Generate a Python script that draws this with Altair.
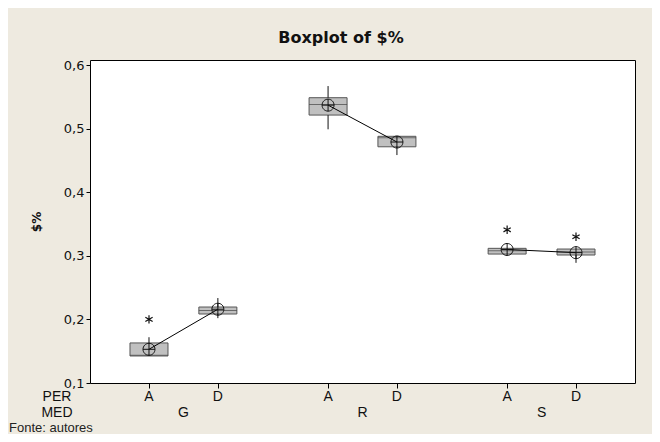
import altair as alt
import pandas as pd

# ---- data ----
per = ["A", "D", "A", "D", "A", "D"]
med = ["G", "G", "R", "R", "S", "S"]
pos = [0.0, 1.0, 2.6, 3.6, 5.2, 6.2]          # category slots on the x axis
q1 = [0.1425, 0.2085, 0.5214, 0.4715, 0.3028, 0.3013]
q3 = [0.1630, 0.2195, 0.5487, 0.4880, 0.3118, 0.3107]
median = [0.1435, 0.2140, 0.5380, 0.4857, 0.3080, 0.3060]
w_low = [0.1425, 0.2020, 0.4990, 0.4585, 0.3028, 0.2890]
w_high = [0.1720, 0.2336, 0.5670, 0.4880, 0.3118, 0.3107]
mean = [0.153, 0.216, 0.537, 0.479, 0.310, 0.305]

out_pos = [0.0, 5.2, 6.2]
out_val = [0.200, 0.341, 0.330]

groups = ["G", "R", "S"]
group_pos = [0.5, 3.1, 5.7]
y_ticks = [0.1, 0.2, 0.3, 0.4, 0.5, 0.6]

W, H = 545, 323
BG = "#eeeae0"
LABEL_FONT = "Liberation Sans Narrow, Liberation Sans, sans-serif"

df = pd.DataFrame(dict(per=per, med=med, pos=pos, q1=q1, q3=q3, median=median,
                       wlo=w_low, whi=w_high, mean=mean))
df_out = pd.DataFrame(dict(pos=out_pos, val=out_val))
df_grp = pd.DataFrame(dict(med=groups, pos=group_pos))

xs = alt.Scale(domain=[-0.784, 6.984], nice=False, zero=False)
ys = alt.Scale(domain=[0.1, 0.608], nice=False, zero=False)

X = alt.X("pos:Q", scale=xs,
          axis=alt.Axis(values=pos, labels=False, title=None, domain=False,
                        grid=False, ticks=True, tickSize=5, tickColor="black"))
Y = alt.Y("q1:Q", scale=ys,
          axis=alt.Axis(values=y_ticks, title="$%", grid=False, domain=False,
                        tickSize=4, tickColor="black",
                        labelExpr="replace(format(datum.value, '.1f'), '.', ',')",
                        labelFont="DejaVu Sans", labelFontSize=13, labelColor="#111",
                        labelPadding=2,
                        titleFont="DejaVu Sans", titleFontSize=12, titleFontWeight="bold",
                        titleColor="#111", titleAngle=-90, titleX=-54, titleY=H / 2,
                        titleAlign="center", titleBaseline="middle"))

base = alt.Chart(df)

boxes = base.mark_bar(size=38, fill="#c0c0c0", stroke="#555555", strokeWidth=1).encode(
    x=X, y=Y, y2="q3:Q")

medians = base.mark_tick(orient="horizontal", size=38, thickness=1, color="#444444").encode(
    x=alt.X("pos:Q", scale=xs), y=alt.Y("median:Q", scale=ys))

wh_up = base.mark_rule(color="#111111", strokeWidth=1).encode(
    x=alt.X("pos:Q", scale=xs), y=alt.Y("q3:Q", scale=ys), y2="whi:Q")
wh_lo = base.mark_rule(color="#111111", strokeWidth=1).encode(
    x=alt.X("pos:Q", scale=xs), y=alt.Y("wlo:Q", scale=ys), y2="q1:Q")

lines = base.mark_line(color="black", strokeWidth=1).encode(
    x=alt.X("pos:Q", scale=xs), y=alt.Y("mean:Q", scale=ys), detail="med:N")

circ_plus = "M-1,0A1,1,0,1,1,1,0A1,1,0,1,1,-1,0Z M-1,0L1,0 M0,-1L0,1"
means = base.mark_point(shape=circ_plus, size=144, filled=False, stroke="#111111",
                        strokeWidth=1, opacity=1).encode(
    x=alt.X("pos:Q", scale=xs), y=alt.Y("mean:Q", scale=ys))

asterisk = "M0,-1L0,1 M-0.87,-0.5L0.87,0.5 M-0.87,0.5L0.87,-0.5"
outl = alt.Chart(df_out).mark_point(shape=asterisk, size=70, filled=False,
                                    stroke="#111111", strokeWidth=1.2, opacity=1).encode(
    x=alt.X("pos:Q", scale=xs), y=alt.Y("val:Q", scale=ys))

per_text = base.mark_text(font=LABEL_FONT, fontSize=14, color="#111", baseline="middle").encode(
    x=alt.X("pos:Q", scale=xs), y=alt.value(H + 14), text="per:N")

med_text = alt.Chart(df_grp).mark_text(font=LABEL_FONT, fontSize=14, color="#111",
                                       baseline="middle").encode(
    x=alt.X("pos:Q", scale=xs), y=alt.value(H + 30), text="med:N")

per_name = alt.Chart(pd.DataFrame(dict(t=["PER"]))).mark_text(
    font=LABEL_FONT, fontSize=14, color="#111", baseline="middle").encode(
    x=alt.value(-33), y=alt.value(H + 14), text="t:N")
med_name = alt.Chart(pd.DataFrame(dict(t=["MED"]))).mark_text(
    font=LABEL_FONT, fontSize=14, color="#111", baseline="middle").encode(
    x=alt.value(-33), y=alt.value(H + 30), text="t:N")

title = alt.Chart(pd.DataFrame(dict(t=["Boxplot of $%"]))).mark_text(
    font="DejaVu Sans", fontSize=16, fontWeight="bold", color="#111", baseline="middle").encode(
    x=alt.value(251), y=alt.value(-22), text="t:N")

source = alt.Chart(pd.DataFrame(dict(t=["Fonte: autores"]))).mark_text(
    font=LABEL_FONT, fontSize=13, color="#222", align="left", baseline="middle").encode(
    x=alt.value(-81), y=alt.value(H + 45), text="t:N")

chart = alt.layer(boxes, medians, wh_up, wh_lo, lines, means, outl,
                  per_text, med_text, per_name, med_name, title, source).properties(
    width=W, height=H,
    autosize=alt.AutoSizeParams(type="none"),
    padding={"left": 82, "top": 52, "right": 17, "bottom": 51},
    background=BG,
).configure_view(
    fill="white", stroke="black", strokeWidth=1
)

chart.save("out.html", embed_options={"renderer": "svg", "actions": False})
